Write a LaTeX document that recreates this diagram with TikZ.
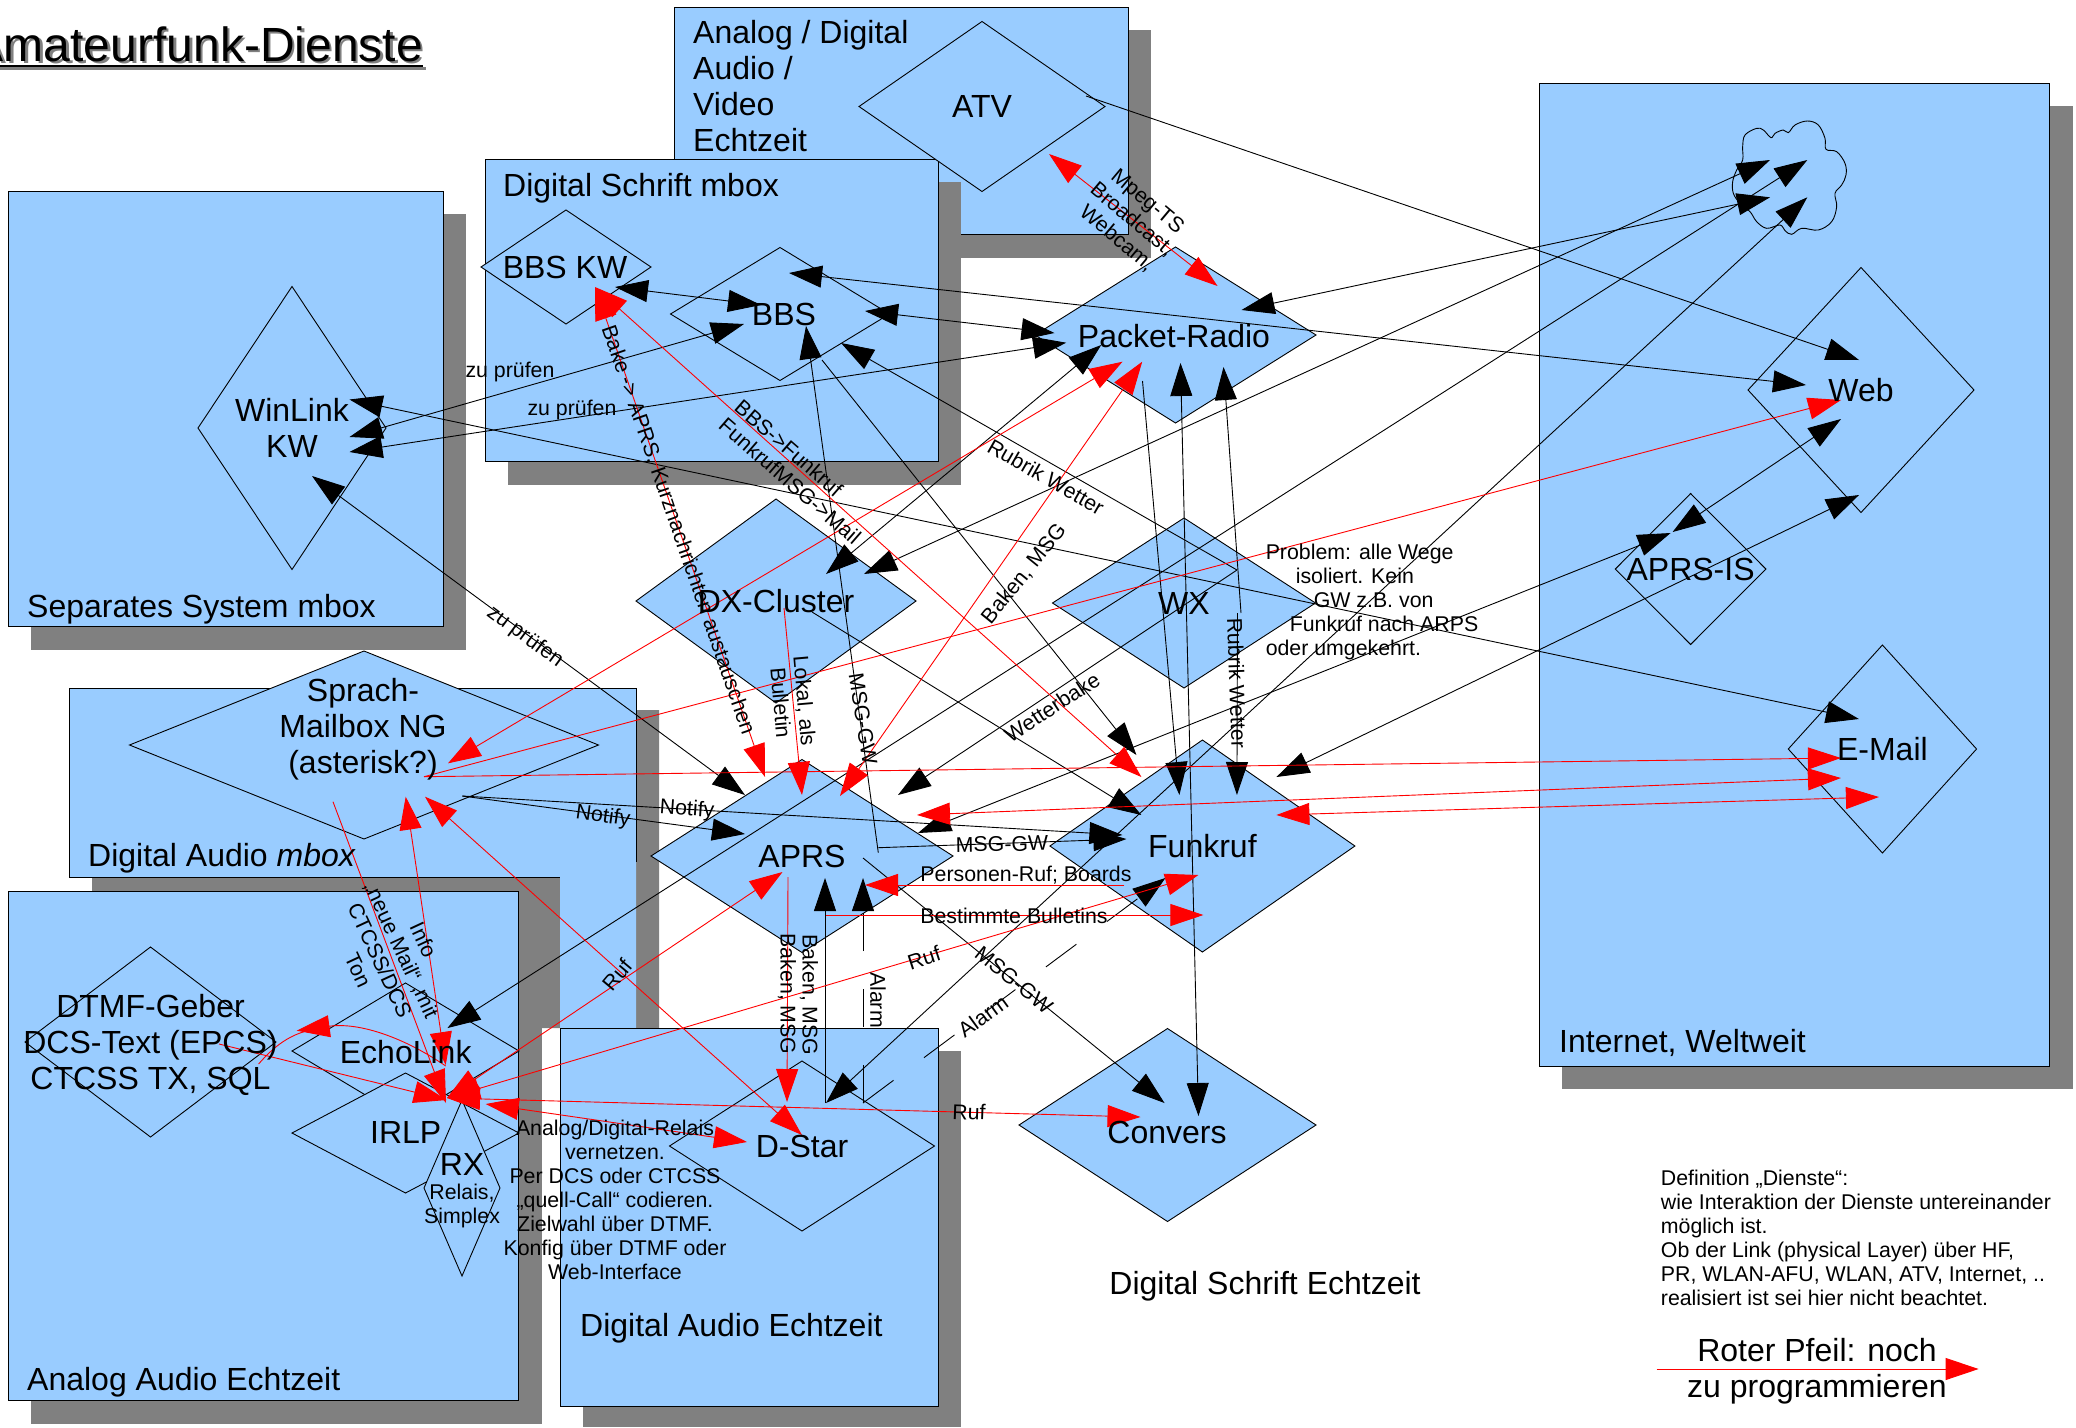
\documentclass[tikz,border=0pt]{standalone}
\usepackage{fontspec}
\setmainfont{Liberation Sans}
\usetikzlibrary{shapes.geometric, arrows.meta, positioning}
\definecolor{fillblue}{HTML}{99CCFF}
\definecolor{shadegray}{HTML}{808080}
\tikzset{
  bt/.tip={Triangle[length=33pt, width=22pt]},
  box/.style={draw=black, fill=fillblue, line width=.9pt},
  shade/.style={fill=shadegray},
  dia/.style={shape=diamond, draw=black, fill=fillblue, inner sep=0pt,
    outer sep=0pt, line width=.9pt},
  conn/.style={draw=black, line width=.9pt},
  rconn/.style={draw=red, line width=.9pt},
  alarm/.style={conn, dash pattern=on 38pt off 38pt},
  bigtxt/.style={font=\fontsize{32}{36}\selectfont, align=center, inner sep=0pt},
  smalltxt/.style={font=\fontsize{21.33}{24}\selectfont, align=center, inner sep=0pt},
}
\begin{document}
\begin{tikzpicture}[x=1pt, y=-1pt]
      \useasboundingbox (0,0) rectangle (2076,1427);%

      % boxes
      \fill [shade] (697,30) rectangle (1151,258);%
      \draw [box] (674,7) rectangle (1128,234);%
      \fill [shade] (508,182) rectangle (961,485);%
      \draw [box] (485,159) rectangle (938,461);%
      \fill [shade] (31,214) rectangle (466,650);%
      \draw [box] (8,191) rectangle (443,626);%
      \fill [shade] (1562,106) rectangle (2072.7,1089);%
      \draw [box] (1539.2,83) rectangle (2049.5,1066);%
      \fill [shade] (92,710) rectangle (659,1028) (92,877) rectangle (560,900);%
      \fill [fillblue] (69,688) rectangle (636,877) (560,877) rectangle (636,1028);%
      \draw [line width=.9pt] (69,877) -- (69,688) -- (636,688) -- (636,862);%
      \draw [line width=.9pt] (69,877) -- (560,877);%
      \fill [shade] (31,913) rectangle (542,1424);%
      \draw [box] (8,891) rectangle (518,1400);%
      \fill [shade] (583,1051) rectangle (961,1427);%
      \draw [box] (560,1028) rectangle (938,1406);%

      % services
      \node [dia, minimum width=246pt, minimum height=170pt] (ATV) at (982,106.5) {};%
      \node [dia, minimum width=188pt, minimum height=283pt] (WinLink) at (292,428) {};%
      \node [dia, minimum width=170pt, minimum height=114pt] (BBSKW) at (566,267) {};%
      \node [dia, minimum width=219pt, minimum height=133pt] (BBS) at (780,314) {};%
      \node [dia, minimum width=281pt, minimum height=176pt] (PR) at (1175.5,335) {};%
      \node [dia, minimum width=280pt, minimum height=204pt] (DX) at (776,601) {};%
      \node [dia, minimum width=263pt, minimum height=170pt] (WX) at (1184,603) {};%
      \node [dia, minimum width=469pt, minimum height=188pt] (Sprach) at (364,745) {};%
      \node [dia, minimum width=302pt, minimum height=193pt] (APRS) at (802,856) {};%
      \node [dia, minimum width=305pt, minimum height=212pt] (Funkruf) at (1202.4,846) {};%
      \node [dia, minimum width=297pt, minimum height=193pt] (Convers) at (1167.5,1125) {};%
      \node [dia, minimum width=265pt, minimum height=170pt] (DStar) at (802,1146) {};%
      \node [dia, minimum width=226pt, minimum height=245pt] (Web) at (1861,390) {};%
      \node [dia, minimum width=150.5pt, minimum height=151pt] (APRSIS) at (1690.6,569) {};%
      \node [dia, minimum width=188.3pt, minimum height=208pt] (EMail) at (1882.4,749) {};%
      \node [dia, minimum width=251pt, minimum height=190pt] (DTMF) at (150.5,1042) {};%
      \node [dia, minimum width=227pt, minimum height=136pt] (Echo) at (405.5,1051) {};%
      \node [dia, minimum width=227pt, minimum height=120pt] (IRLP) at (405.5,1133) {};%
      \node [dia, minimum width=76pt, minimum height=176pt] (RX) at (462,1188) {};%

      % cloud
      \coordinate (Cloud) at (1790,178);%
      \draw [line width=.9pt, shift={(1720,110)}, x=.3333pt, y=-.3333pt]
      plot [smooth cycle, tension=.6] coordinates {(68,110) (75,75) (110,55)
        (130,60) (153,83) (165,70) (190,60) (205,68) (225,45) (262,33) (295,45)
        (315,85) (318,118) (350,125) (375,160) (378,195) (365,225) (345,250)
        (350,290) (335,335) (295,360) (245,355) (215,373) (195,362) (180,345)
        (140,355) (110,335) (90,305) (60,280) (40,250) (38,215) (50,180) (68,150)};%

      % black arrows
      \draw [conn, bt-bt] ([shift={(57.5,-28.5)}]WinLink.center) -- ([shift={(-23.5,-30)}]EMail.center);%
      \draw [conn, bt-bt] ([shift={(57.5,9)}]WinLink.center) -- ([shift={(-36,10)}]BBS.center);%
      \draw [conn, bt-bt] ([shift={(57.5,24)}]WinLink.center) -- ([shift={(-109.3,7.7)}]PR.center);%
      \draw [conn, bt-bt] ([shift={(49,20)}]BBSKW.center) -- ([shift={(-19,-9)}]BBS.center);%
      \draw [conn, bt-bt] ([shift={(9,-41)}]BBS.center) -- ([shift={(-55,-5)}]Web.center);%
      \draw [conn, bt-bt] ([shift={(85,-3)}]BBS.center) -- ([shift={(-121,-2)}]PR.center);%
      \draw [conn, -bt] ([shift={(76.3,-3.3)}]APRS.center) -- ([shift={(26,12)}]BBS.center);%
      \draw [conn, -bt] ([shift={(76.3,-8.3)}]APRS.center) -- ([shift={(-76,-7)}]Funkruf.center);%
      \draw [conn, -bt] ([shift={(42,46)}]BBS.center) -- ([shift={(-66,-91)}]Funkruf.center);%
      \draw [conn, -bt] ([shift={(53,-33)}]WX.center) -- ([shift={(61,29)}]BBS.center);%
      \draw [conn, -bt] ([shift={(53,-33)}]WX.center) -- ([shift={(96,-61)}]APRS.center);%
      \draw [conn, -bt] ([shift={(57,10)}]WX.center) -- ([shift={(48,32)}]PR.center);%
      \draw [conn, -bt] ([shift={(53.5,10)}]WX.center) -- ([shift={(34.5,-51)}]Funkruf.center);%
      \draw [conn, bt-bt] ([shift={(5,28)}]PR.center) -- ([shift={(31,-9)}]Convers.center);%
      \draw [conn, -bt] ([shift={(-33,46)}]PR.center) -- ([shift={(-23,-51)}]Funkruf.center);%
      \draw [conn, bt-bt] ([shift={(50,-27)}]DX.center) -- ([shift={(-74.3,10)}]PR.center);%
      \draw [conn, bt-bt] ([shift={(88,-27)}]DX.center) -- ([shift={(-20,-18)}]Cloud);%
      \draw [conn, bt-bt] ([shift={(66,-25)}]PR.center) -- ([shift={(-20,19.3)}]Cloud);%
      \draw [conn, bt-bt] ([shift={(42,-23)}]Echo.center) -- ([shift={(17.3,-18)}]Cloud);%
      \draw [conn, bt-bt] ([shift={(24,-43)}]DStar.center) -- ([shift={(17.3,19.3)}]Cloud);%
      \draw [conn, -bt] ([shift={(104,-10.5)}]ATV.center) -- ([shift={(-2,-30)}]Web.center);%
      \draw [conn, bt-bt] ([shift={(-20,29)}]Web.center) -- ([shift={(-18,-37)}]APRSIS.center);%
      \draw [conn, bt-bt] ([shift={(-2,105)}]Web.center) -- ([shift={(74,-69)}]Funkruf.center);%
      \draw [conn, bt-bt] ([shift={(-20,-36)}]APRSIS.center) -- ([shift={(116,-23)}]APRS.center);%
      \draw [conn, bt-bt] ([shift={(20,48)}]WinLink.center) -- ([shift={(-57,-61)}]APRS.center);%
      \draw [conn, -bt] ([shift={(98.3,51)}]Sprach.center) -- ([shift={(-57,-22)}]APRS.center);%
      \draw [conn, -bt] ([shift={(98.3,51)}]Sprach.center) -- ([shift={(-80,-11)}]Funkruf.center);%
      \draw [conn, -bt] ([shift={(61,2)}]APRS.center) -- ([shift={(-3,-22)}]Convers.center);%
      \draw [alarm, -bt] ([shift={(61,-43)}]DStar.center) -- ([shift={(61,22)}]APRS.center);%
      \draw [alarm, -bt] ([shift={(61,-43)}]DStar.center) -- ([shift={(-37,32)}]Funkruf.center);%
      \draw [conn, -bt] ([shift={(23,-43)}]DStar.center) -- ([shift={(23,22)}]APRS.center);%
      \draw [conn, -bt] ([shift={(36,11)}]DX.center) -- ([shift={(-61,-31)}]Funkruf.center);%

      % red arrows
      \draw [rconn, bt-bt] ([shift={(67,47.5)}]ATV.center) -- ([shift={(42,-49)}]PR.center);%
      \draw [rconn, bt-bt] ([shift={(29,20)}]BBSKW.center) -- ([shift={(-37,-79)}]APRS.center);%
      \draw [rconn, bt-bt] ([shift={(29,20)}]BBSKW.center) -- ([shift={(-61,-69)}]Funkruf.center);%
      \draw [rconn, -bt] ([shift={(8,7)}]DX.center) -- ([shift={(0,-61)}]APRS.center);%
      \draw [rconn, bt-bt] ([shift={(-53,26.7)}]PR.center) -- ([shift={(84,18.3)}]Sprach.center);%
      \draw [rconn, bt-bt] ([shift={(-33.3,26.7)}]PR.center) -- ([shift={(38,-60)}]APRS.center);%
      \draw [rconn, -bt] ([shift={(60,31.7)}]Sprach.center) -- ([shift={(-20,10)}]Web.center);%
      \draw [rconn, -bt] ([shift={(60,31.7)}]Sprach.center) -- ([shift={(-41.5,9)}]EMail.center);%
      \draw [rconn, bt-bt] ([shift={(115,-41)}]APRS.center) -- ([shift={(-41.5,29)}]EMail.center);%
      \draw [rconn, bt-bt] ([shift={(74,-31)}]Funkruf.center) -- ([shift={(-3.5,48)}]EMail.center);%
      \draw [rconn, -bt] ([shift={(-78,39)}]Funkruf.center) -- ([shift={(63,29)}]APRS.center);%
      \draw [rconn, -bt] ([shift={(24,59)}]APRS.center) -- ([shift={(1,69)}]Funkruf.center);%
      \draw [rconn, bt-bt] ([shift={(41.5,-35)}]IRLP.center) -- ([shift={(-4,29)}]Funkruf.center);%
      \draw [rconn, bt-bt] ([shift={(61,51.7)}]Sprach.center) -- ([shift={(0,-11)}]DStar.center);%
      \draw [rconn, bt-bt] ([shift={(41.7,51.7)}]Sprach.center) -- ([shift={(40.2,14)}]Echo.center);%
      \draw [rconn, -bt] ([shift={(-31,56.7)}]Sprach.center) -- ([shift={(40.5,-30)}]IRLP.center);%
      \draw [rconn, -bt] ([shift={(68.5,2)}]DTMF.center) -- ([shift={(41.2,-33)}]IRLP.center);%
      \draw [rconn, bt-bt] ([shift={(41.5,-35)}]IRLP.center) -- ([shift={(-19.5,16)}]APRS.center);%
      \draw [rconn, bt-bt] ([shift={(41.5,-35)}]IRLP.center) -- ([shift={(-27,-8)}]Convers.center);%
      \draw [rconn, bt-bt] ([shift={(80.2,-29)}]IRLP.center) -- ([shift={(-55,-4)}]DStar.center);%
      \draw [rconn, -bt] ([shift={(-14,21)}]APRS.center) -- ([shift={(-15,-44)}]DStar.center);%
      \draw [rconn, -bt] ([shift={(40.2,15)}]Echo.center) .. controls (405,1038) and (360,1022) .. ([shift={(-108.8,-20.3)}]Echo.center);%
      \draw [rconn] ([shift={(108.1,22)}]DTMF.center) .. controls (275,1045) and (295,1029) .. ([shift={(-78.8,-23)}]Echo.center);%

      % legend arrow
      \coordinate (RedFrom) at (1656.7,1369);%
      \coordinate (RedTo) at (1978.6,1369);%
      \draw [rconn, -bt] (RedFrom) -- (RedTo);%

      % title
      \node [font=\fontsize{48}{54}\selectfont, text=gray, inner sep=0pt, anchor=base east] (TitleS) at (425.5,63.5) {Amateurfunk-Dienste};%
      \draw [gray, line width=2.5pt] ([yshift=-5pt]TitleS.base west) -- ([yshift=-5pt]TitleS.base east);%
      \node [font=\fontsize{48}{54}\selectfont, inner sep=0pt, anchor=base east] (Title) at (423,61) {Amateurfunk-Dienste};%
      \draw [line width=2.5pt] ([yshift=-5pt]Title.base west) -- ([yshift=-5pt]Title.base east);%

      % box labels
      \node [bigtxt, align=left, anchor=west] (ATVbox) at (693,86) {Analog / Digital\\Audio /\\Video\\Echtzeit};%
      \node [bigtxt, anchor=west] (Schriftbox) at (503,188) {Digital Schrift mbox};%
      \node [bigtxt, anchor=west] (Sepbox) at (27,609) {Separates System mbox};%
      \node [bigtxt, anchor=west] (Mboxbox) at (88,858) {Digital Audio \textit{mbox}};%
      \node [bigtxt, anchor=west] (Analogbox) at (27,1382) {Analog Audio Echtzeit};%
      \node [bigtxt, anchor=west] (Digitalbox) at (580,1328) {Digital Audio Echtzeit};%
      \node [bigtxt, anchor=west] (Netbox) at (1559,1043) {Internet, Weltweit};%
      \node [bigtxt] (Echtbox) at (1265,1286) {Digital Schrift Echtzeit};%

      % service labels
      \node [bigtxt] (ATVt) at (ATV) {ATV};%
      \node [bigtxt] (WinLinkt) at (WinLink) {WinLink\\KW};%
      \node [bigtxt] (BBSKWt) at (565,267) {BBS KW};%
      \node [bigtxt] (BBSt) at (784,314) {BBS};%
      \node [bigtxt] (PRt) at (1174,336.5) {Packet-Radio};%
      \node [bigtxt] (DXt) at (776,601) {DX-Cluster};%
      \node [bigtxt] (WXt) at (WX) {WX};%
      \node [bigtxt] (Sprt) at (363,729.5) {Sprach-\\Mailbox NG\\(asterisk?)};%
      \node [bigtxt] (APRSt) at (APRS) {APRS};%
      \node [bigtxt] (Funkt) at (Funkruf) {Funkruf};%
      \node [bigtxt] (Convt) at (1167,1132) {Convers};%
      \node [bigtxt] (DStart) at (DStar) {D-Star};%
      \node [bigtxt] (Webt) at (Web) {Web};%
      \node [bigtxt] (ISt) at (APRSIS) {APRS-IS};%
      \node [bigtxt] (EMailt) at (EMail) {E-Mail};%
      \node [bigtxt] (DTMFt) at (150.5,1044.5) {DTMF-Geber\\DCS-Text (EPCS)\\CTCSS TX, SQL};%
      \node [bigtxt] (Echot) at (405.7,1052) {EchoLink};%
      \node [bigtxt] (IRLPt) at (405.7,1132) {IRLP};%
      \node [bigtxt] (RXt) at (462,1164) {RX};%
      \node [smalltxt] (RXs) at (462,1206) {Relais,\\Simplex};%

      % connector labels
      \node [smalltxt] (lWL1) at (510,372) {zu prüfen};%
      \node [smalltxt] (lWL2) at (572,410) {zu prüfen};%
      \node [smalltxt, rotate=-36.4] (lWL3) at (525,637) {zu prüfen};%
      \node [smalltxt, rotate=-70.9] (lBake) at (678,530) {Bake -> APRS, Kurznachrichten austauschen};%
      \node [smalltxt, align=left, rotate=-41] (lBBS) at (798,472) {BBS->Funkruf\\FunkrufMSG->Mail};%
      \node [smalltxt, rotate=-40] (lATV) at (1132,220) {Mpeg-TS\\Broadcast,\\Webcam,};%
      \node [smalltxt, rotate=-29.8] (lRub1) at (1046,477) {Rubrik Wetter};%
      \node [smalltxt, rotate=51] (lBak1) at (1024,574) {Baken, MSG};%
      \node [smalltxt, rotate=33] (lWetter) at (1052,707) {Wetterbake};%
      \node [smalltxt, rotate=-85] (lLokal) at (793,702) {Lokal, als\\Bulletin};%
      \node [smalltxt, rotate=-81] (lMSG1) at (863,719) {MSG-GW};%
      \node [smalltxt, rotate=-88] (lRub2) at (1237,683) {Rubrik Wetter};%
      \node [smalltxt, rotate=-8] (lNot1) at (603,817) {Notify};%
      \node [smalltxt, rotate=-4] (lNot2) at (687,810) {Notify};%
      \node [smalltxt, rotate=1] (lMSG2) at (1002,844) {MSG-GW};%
      \node [smalltxt] (lPers) at (1026,875) {Personen-Ruf; Boards};%
      \node [smalltxt] (lBest) at (1014,916) {Bestimmte Bulletins};%
      \node [smalltxt, rotate=18] (lRuf1) at (924,958) {Ruf};%
      \node [smalltxt, rotate=-90] (lBak2) at (809,995) {Baken, MSG};%
      \node [smalltxt, rotate=-90] (lBak3) at (787,994) {Baken, MSG};%
      \node [smalltxt, rotate=-90] (lAl1) at (878,1000) {Alarm};%
      \node [smalltxt, rotate=36] (lAl2) at (983,1016) {Alarm};%
      \node [smalltxt, rotate=-39] (lMSG3) at (1014,980) {MSG-GW};%
      \node [smalltxt, rotate=50] (lRuf2) at (617,975) {Ruf};%
      \node [smalltxt, rotate=-2] (lRuf3) at (969,1112) {Ruf};%
      \node [smalltxt, rotate=-65] (lInfo) at (391,955) {Info\\„neue Mail“ ,mit\\CTCSS/DCS\\Ton};%

      % notes
      \node [smalltxt, align=left] (nProblem) at (1372,602) {Problem: alle Wege\\\hspace*{30pt}isoliert. Kein\\\hspace*{48pt}GW z.B. von\\\hspace*{24pt}Funkruf nach ARPS\\oder umgekehrt.};%
      \node [smalltxt] (nRelais) at (615,1199.5) {Analog/Digital-Relais\\vernetzen.\\Per DCS oder CTCSS\\„quell-Call“ codieren.\\Zielwahl über DTMF.\\Konfig über DTMF oder\\Web-Interface};%
      \node [smalltxt, align=left, anchor=west] (nDef) at (1660.7,1238) {Definition „Dienste“:\\wie Interaktion der Dienste untereinander\\möglich ist.\\Ob der Link (physical Layer) über HF,\\PR, WLAN-AFU, WLAN, ATV, Internet, ..\\realisiert ist sei hier nicht beachtet.};%
      \node [bigtxt] (nRot) at (1817,1371.5) {Roter Pfeil: noch\\zu programmieren};%
\end{tikzpicture}
\end{document}
